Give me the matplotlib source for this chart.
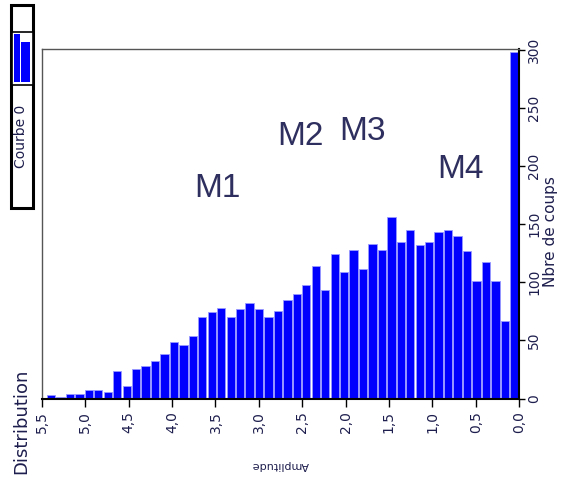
import matplotlib
matplotlib.use('Agg')
import matplotlib.pyplot as plt
import numpy as np
from matplotlib.patches import Rectangle

# counts per bin, read from left (high amplitude) to right (amplitude 0)
counts_left_to_right = [3, 1, 4, 4, 7, 7, 6, 24, 11, 25,
                        28, 32, 38, 49, 46, 54, 70, 74, 78, 70,
                        77, 82, 77, 70, 75, 85, 90, 98, 114, 93,
                        124, 109, 128, 111, 133, 128, 156, 135, 145, 132,
                        135, 143, 145, 140, 127, 101, 117, 101, 67, 298]
bin_width = 0.109
xticks = [5.5, 5.0, 4.5, 4.0, 3.5, 3.0, 2.5, 2.0, 1.5, 1.0, 0.5, 0.0]
yticks = [0, 50, 100, 150, 200, 250, 300]
marks = ['M1', 'M2', 'M3', 'M4']
marks_x = [3.48, 2.52, 1.81, 0.675]
marks_y = [181, 225, 230, 197]

W, H = 567, 483
txt = '#1e1e4e'

fig = plt.figure(figsize=(W / 100, H / 100), dpi=100)
ax = fig.add_axes([42 / W, 1 - 398.5 / H, 477 / W, 350 / H])

counts = np.array(counts_left_to_right[::-1])
centers = (np.arange(len(counts)) + 0.5) * bin_width
ax.bar(centers, counts, width=bin_width * 0.88, color='#0000ff',
       edgecolor='#9a9aff', linewidth=0.6)

ax.set_xlim(5.5, 0)
ax.set_ylim(0, 301)
ax.set_xticks(xticks)
ax.set_xticklabels([('%.1f' % v).replace('.', ',') for v in xticks],
                   rotation=90, fontsize=10, color=txt)
ax.yaxis.tick_right()
ax.set_yticks(yticks)
ax.set_yticklabels([str(v) for v in yticks], rotation=90, va='center',
                   fontsize=10, color=txt)
ax.tick_params(axis='x', direction='out', length=6, width=1, pad=3)
ax.tick_params(axis='y', direction='out', length=4, width=1, pad=2)

for s in ['left', 'top']:
    ax.spines[s].set_color('#555555')
    ax.spines[s].set_linewidth(1)
for s in ['right', 'bottom']:
    ax.spines[s].set_color('black')
    ax.spines[s].set_linewidth(1.5)

for m, mx, my in zip(marks, marks_x, marks_y):
    ax.text(mx, my, m, ha='center', va='center', fontsize=24,
            family='Liberation Sans', color='#2f2f5f')

def fx(px):
    return px / W

def fy(py):
    return 1 - py / H

fig.text(fx(551), fy(232), 'Nbre de coups', rotation=90, ha='center',
         va='center', fontsize=11, color=txt)
fig.text(fx(280), fy(465), 'Amplitude', rotation=180, ha='center',
         va='center', fontsize=8, color=txt)
fig.text(fx(21), fy(421), 'Distribution', rotation=90, ha='center',
         va='center', fontsize=13, color=txt)

# legend box drawn by hand
fig.add_artist(Rectangle((fx(10.5), fy(208)), 22.5 / W, 203 / H,
                         transform=fig.transFigure, facecolor='white',
                         edgecolor='black', linewidth=2.2))
fig.add_artist(Rectangle((fx(12), fy(85)), 20.5 / W, 53 / H,
                         transform=fig.transFigure, facecolor='white',
                         edgecolor='black', linewidth=1.2))
fig.add_artist(Rectangle((fx(14), fy(82)), 6 / W, 47.5 / H,
                         transform=fig.transFigure, facecolor='#0000ff',
                         edgecolor='none'))
fig.add_artist(Rectangle((fx(21), fy(82)), 9 / W, 40 / H,
                         transform=fig.transFigure, facecolor='#0000ff',
                         edgecolor='none'))
fig.text(fx(21), fy(136), 'Courbe 0', rotation=90, ha='center',
         va='center', fontsize=10, color=txt)

fig.savefig('out.png', dpi=100)
